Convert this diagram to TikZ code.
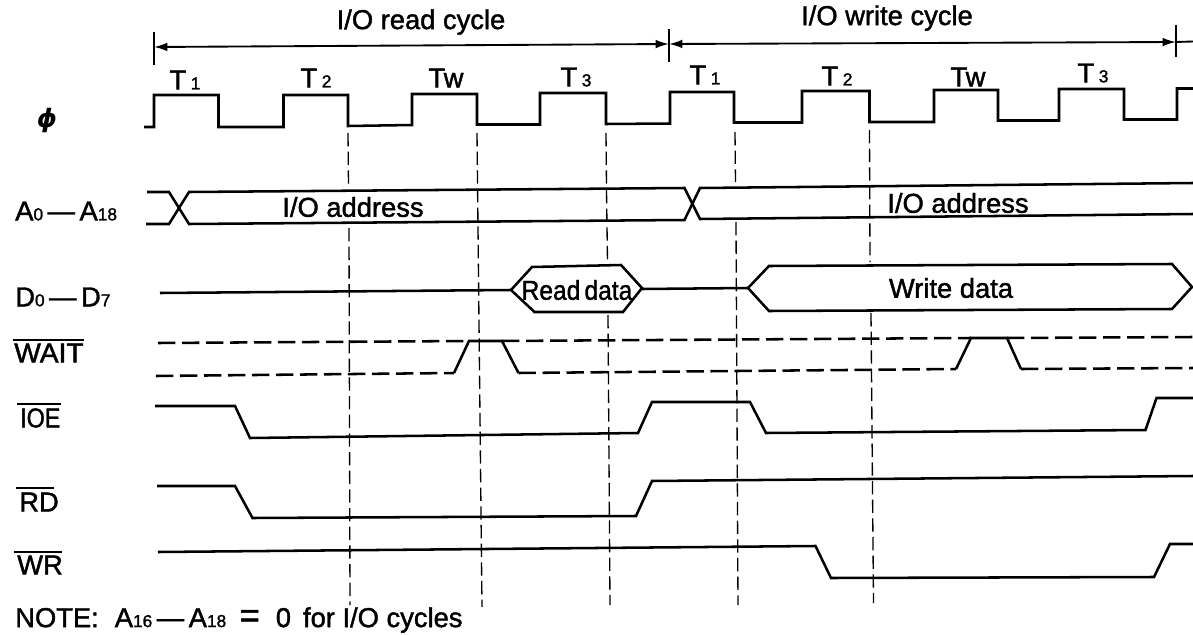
\documentclass[tikz,border=0pt]{standalone}
\usepackage{fontspec}
\usepackage{graphicx}
\usetikzlibrary{arrows.meta}
\newfontfamily\lab[FakeBold=1.5]{Liberation Sans}
\newfontfamily\phif{DejaVu Sans}
\newcommand{\labsize}{\fontsize{20.5pt}{22pt}\selectfont\lab}
\newcommand{\subs}[1]{{\fontsize{13pt}{14pt}\selectfont #1}}
\tikzset{
  wave/.style={line width=1.9pt,line join=miter,black},
  guide/.style={line width=1pt,dash pattern=on 10pt off 4pt,black},
  dashwave/.style={line width=1.9pt,dash pattern=on 13pt off 5pt,black},
  bar/.style={line width=1.3pt,black},
  span/.style={line width=1.4pt,black,{Latex[length=10pt,width=6.5pt]}-{Latex[length=10pt,width=6.5pt]}},
  tick/.style={line width=1.3pt,black},
  lbl/.style={font=\labsize,inner sep=0pt,black},
  sig/.style={lbl,anchor=west},
}
\begin{document}
\begin{tikzpicture}[x=0.75pt,y=-0.75pt]
\useasboundingbox (0,0) rectangle (1193,635);
% cycle spans
\draw[tick] (154,32) -- (154,65);
\draw[tick] (669,29) -- (669,62);
\draw[tick] (1176,25) -- (1176,57);
\coordinate (s0) at (154,47);
\coordinate (s1) at (669,44);
\coordinate (s2) at (1176,42);
\draw[span] (s0) -- (s1);
\draw[span] (s1) -- (s2);
\draw[wave,line width=1.4pt] (s2) -- (1193,41.5);
\node[lbl] (readcycle) at (421,22) {I/O read cycle};
\node[lbl] (writecycle) at (887,18) {I/O write cycle};
% T labels
\node[lbl] (t1a) at (185,80) {T\,\subs{1}};
\node[lbl] (t2a) at (316,78) {T\,\subs{2}};
\node[lbl] (twa) at (446,78) {Tw};
\node[lbl] (t3a) at (576,77) {T\,\subs{3}};
\node[lbl] (t1b) at (705,75) {T\,\subs{1}};
\node[lbl] (t2b) at (837,76) {T\,\subs{2}};
\node[lbl] (twb) at (968,77) {Tw};
\node[lbl] (t3b) at (1093,73) {T\,\subs{3}};
% clock
\draw[wave] (144,127) -- (154,127) -- (154,95) -- (218.5,95) -- (218.5,127) -- (283.5,127) -- (283.5,95) -- (348,95) -- (348,126) -- (412,125) -- (412,94) -- (477,94) -- (477,124.5) -- (540,124.5) -- (540,93) -- (606,93) -- (606,124) -- (670,123.5) -- (670,92) -- (734,92) -- (734,122.5) -- (802,122.5) -- (802,91) -- (869.5,91) -- (869.5,122) -- (934,122) -- (934,90) -- (998,90) -- (998,120.5) -- (1059,120.5) -- (1059,89) -- (1124,89) -- (1124,119.5) -- (1177,119.5) -- (1177,88.5) -- (1193,88.5);
% guides
\draw[guide] (348,133) -- (348.5,186);
\draw[guide] (349,228) -- (350,605);
\draw[guide] (477,133) -- (482,607);
\draw[guide] (606,133) -- (606.5,186);
\draw[guide] (606.5,190) -- (607.5,262);
\draw[guide] (608,315) -- (610,605);
\draw[guide] (735,132) -- (735.5,182);
\draw[guide] (736,222) -- (738,605);
\draw[guide] (869.5,130) -- (870,262);
\draw[guide] (871,313) -- (873.5,603);
% address
\draw[wave] (147,192) -- (169,192) -- (189,224) -- (684.5,220) -- (700,188) -- (1193,183);
\draw[wave] (146,224) -- (169,224) -- (189,192) -- (684.5,188) -- (700,219) -- (1193,214);
\node[lbl] (addr1) at (353,207) {I/O address};
\node[lbl] (addr2) at (958,203) {I/O address};
% data
\draw[wave] (160,293) -- (511,290) -- (532,267) -- (621,265) -- (642,288) -- (623,312) -- (534.5,312) -- (511,290);
\draw[wave] (642,289) -- (748,288) -- (769,266) -- (1172,264) -- (1192,287) -- (1172,309) -- (769,311) -- (748,288);
\node[lbl] (read) at (577,290) {\scalebox{0.9}[1]{Read\,data}};
\node[lbl] (write) at (951,288) {Write data};
% wait
\draw[dashwave] (158,343) -- (469,341);
\draw[dashwave] (502,341) -- (971,338);
\draw[dashwave] (1007,338) -- (1193,337);
\draw[dashwave] (156,376) -- (454,373);
\draw[dashwave] (518.5,373) -- (956,369);
\draw[dashwave] (1021,369) -- (1193,368);
\draw[wave] (454,373) -- (469,341) -- (502,341) -- (518.5,373);
\draw[wave] (956,369) -- (971,338) -- (1007,338) -- (1021,369);
% IOE
\draw[wave] (155,406) -- (235,406) -- (250,438) -- (638,433) -- (652,402) -- (750,402) -- (766,433) -- (1145.5,430) -- (1156.5,398) -- (1193,398);
% RD
\draw[wave] (157,486) -- (235,486) -- (252.5,518) -- (636,516) -- (652,481) -- (1193,476);
% WR
\draw[wave] (158,552) -- (815.5,546) -- (831,578) -- (1154,577) -- (1170,544) -- (1193,544);
% signal labels
\node[lbl] (phi) at (47,121) {\fontsize{19pt}{20pt}\selectfont\phif\bfseries\itshape ϕ};
\node[sig] (addrlbl) at (15,211) {A\subs{0}\,\textemdash\,A\subs{18}};
\node[sig] (datalbl) at (15,297) {D\subs{0}\,\textemdash\,D\subs{7}};
\node[sig] (waitlbl) at (14,353) {\scalebox{1.03}[1]{WAIT}};
\node[sig] (ioelbl) at (20,418) {\scalebox{0.85}[1]{IOE}};
\node[sig] (rdlbl) at (19,502) {RD};
\node[sig] (wrlbl) at (17,565) {WR};
\draw[bar] (13,340) -- (84,340);
\draw[bar] (17,404) -- (61,404);
\draw[bar] (16,488) -- (54,488);
\draw[bar] (14,552) -- (62,552);
\node[sig] (note) at (15,620) {NOTE:\hspace{12pt}A\subs{16}\,\textemdash\,A\subs{18}\hspace{10pt}{\fontsize{26pt}{26pt}\selectfont =}\hspace{12pt}0\hspace{9pt}for I/O cycles};
\end{tikzpicture}
\end{document}
